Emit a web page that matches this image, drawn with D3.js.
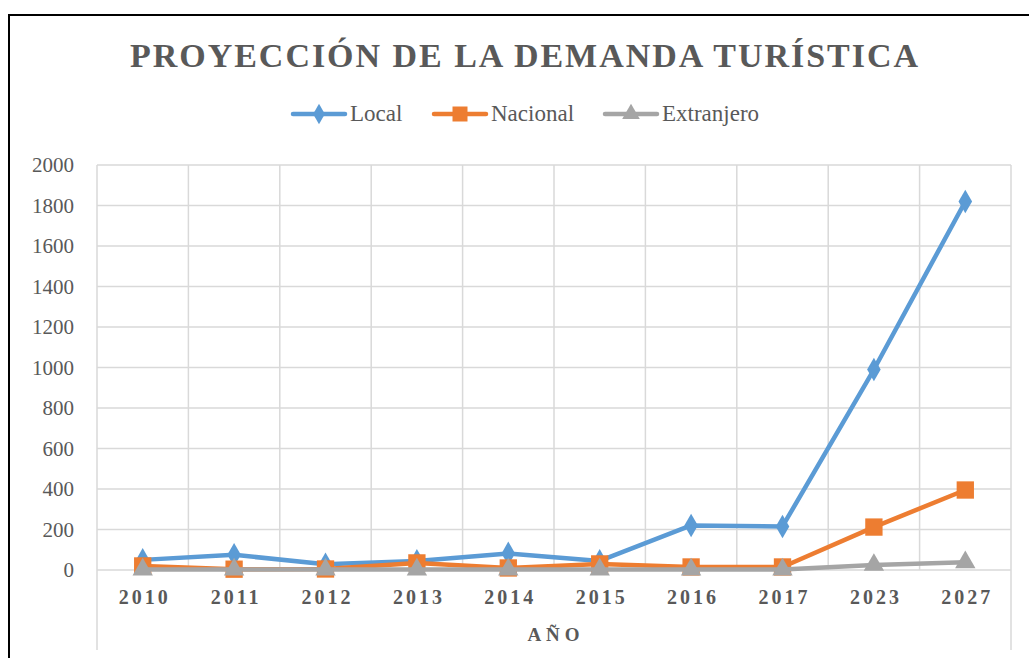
<!DOCTYPE html>
<html lang="es">
<head>
<meta charset="UTF-8" />
<title>Proyección de la demanda turística</title>
<script src="https://d3js.org/d3.v7.min.js"></script>
<style>
  body { margin: 0; background: #fff; }
  svg { display: block; }
</style>
</head>
<body>
<svg width="1029" height="658"></svg>
<script>
  const years = ["2010", "2011", "2012", "2013", "2014", "2015", "2016", "2017", "2023", "2027"];
  const local = [50, 75, 28, 45, 82, 45, 220, 215, 990, 1820];
  const nacional = [20, 4, 5, 35, 10, 30, 15, 15, 212, 395];
  const extranjero = [2, 2, 2, 2, 2, 2, 2, 2, 25, 38];
  const yTicks = [0, 200, 400, 600, 800, 1000, 1200, 1400, 1600, 1800, 2000];

  const series = [
    { name: "Local", values: local, color: "#5B9BD5", shape: d3.symbolDiamond, size: 160 },
    { name: "Nacional", values: nacional, color: "#ED7D31", shape: d3.symbolSquare, size: 300 },
    { name: "Extranjero", values: extranjero, color: "#A5A5A5", shape: d3.symbolTriangle, size: 180 }
  ];

  const svg = d3.select("svg");
  const serif = "\"Liberation Serif\", \"Times New Roman\", serif";
  const textCol = "#595959";

  // outer frame (only top and left visible)
  svg.append("path")
    .attr("d", "M9,658 V15 H1029")
    .attr("fill", "none").attr("stroke", "#000").attr("stroke-width", 2);

  const plotLeft = 97, plotRight = 1011, plotTop = 165, plotBottom = 570;

  const x = d3.scaleBand().domain(years).range([plotLeft, plotRight]);
  const y = d3.scaleLinear().domain([0, 2000]).range([plotBottom, plotTop]);

  // horizontal gridlines
  svg.append("g").selectAll("line").data(yTicks).join("line")
    .attr("x1", plotLeft).attr("x2", plotRight)
    .attr("y1", d => y(d)).attr("y2", d => y(d))
    .attr("stroke", "#d9d9d9").attr("stroke-width", 1.5);

  // vertical gridlines at category boundaries
  const bounds = years.map(d => x(d)).concat([plotRight]);
  svg.append("g").selectAll("line").data(bounds).join("line")
    .attr("x1", d => d).attr("x2", d => d)
    .attr("y1", plotTop)
    .attr("y2", (d, i) => (i === 0 || i === bounds.length - 1) ? 650 : plotBottom)
    .attr("stroke", "#d9d9d9").attr("stroke-width", 1.5);

  // y tick labels
  svg.append("g").selectAll("text").data(yTicks).join("text")
    .attr("x", 74).attr("y", d => y(d) + 7)
    .attr("text-anchor", "end")
    .style("font-family", serif).attr("font-size", 21)
    .attr("fill", textCol)
    .text(d => d);

  // x tick labels
  svg.append("g").selectAll("text").data(years).join("text")
    .attr("x", d => x(d) + x.bandwidth() / 2 + 2).attr("y", 604)
    .attr("text-anchor", "middle")
    .style("font-family", serif).attr("font-size", 20).attr("font-weight", "bold")
    .attr("letter-spacing", 3)
    .attr("fill", textCol)
    .text(d => d);

  // x axis title
  svg.append("text")
    .attr("x", 556).attr("y", 641)
    .attr("text-anchor", "middle")
    .style("font-family", serif).attr("font-size", 19).attr("font-weight", "bold")
    .attr("letter-spacing", 5)
    .attr("fill", textCol)
    .text("AÑO");

  // chart title
  svg.append("text")
    .attr("x", 130).attr("y", 67)
    .attr("textLength", 788).attr("lengthAdjust", "spacing")
    .style("font-family", serif).attr("font-size", 34).attr("font-weight", "bold")
    .attr("fill", textCol)
    .text("PROYECCIÓN DE LA DEMANDA TURÍSTICA");

  // lines and markers
  const line = d3.line()
    .x((d, i) => x(years[i]) + x.bandwidth() / 2)
    .y(d => y(d));

  series.forEach(s => {
    const g = svg.append("g");
    g.append("path")
      .attr("d", line(s.values))
      .attr("fill", "none").attr("stroke", s.color)
      .attr("stroke-width", 4.5).attr("stroke-linejoin", "round").attr("stroke-linecap", "round");
    g.selectAll("path.m").data(s.values).join("path")
      .attr("class", "m")
      .attr("transform", (d, i) => `translate(${x(years[i]) + x.bandwidth() / 2},${y(d)})`)
      .attr("d", d3.symbol().type(s.shape).size(s.size))
      .attr("fill", s.color);
  });

  // legend
  const legX = [293, 434, 605];
  const leg = svg.append("g").selectAll("g").data(series).join("g")
    .attr("transform", (d, i) => `translate(${legX[i]},114)`);
  leg.append("line")
    .attr("x1", 0).attr("x2", 52)
    .attr("stroke", d => d.color).attr("stroke-width", 4.5).attr("stroke-linecap", "round");
  leg.append("path")
    .attr("transform", "translate(26,0)")
    .attr("d", d => d3.symbol().type(d.shape).size(d.size * 0.75)())
    .attr("fill", d => d.color);
  leg.append("text")
    .attr("x", 57).attr("y", 7)
    .style("font-family", serif).attr("font-size", 23)
    .attr("fill", textCol)
    .text(d => d.name);
</script>
</body>
</html>
